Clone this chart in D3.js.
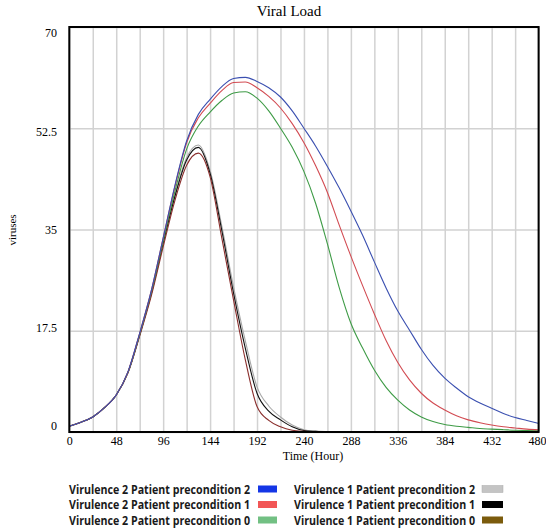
<!DOCTYPE html>
<html>
<head>
<meta charset="utf-8">
<script src="https://cdn.jsdelivr.net/npm/d3@7"></script>
<style>
  body { margin: 0; background: #fff; }
  svg { display: block; }
</style>
</head>
<body>
<div id="chart"></div>
<script>
var width = 546;
var height = 531;

// time in hours
var hours = [0, 12, 24, 36, 48, 60, 72, 84, 96, 108, 120, 132, 144, 156, 168, 180, 192, 204, 216, 228, 240,
  252, 264, 276, 288, 300, 312, 324, 336, 348, 360, 372, 384, 396, 408, 420, 432, 444, 456, 468, 480];

var v2p2 = [1.0, 1.7, 2.6, 4.2, 6.4, 10.4, 17.1, 24.5, 33.5, 42.6, 50.3, 54.9, 57.5, 59.7, 61.1, 61.3, 60.6,
  59.5, 57.9, 55.5, 52.5, 49.4, 45.9, 42.2, 38.2, 34.0, 29.4, 24.9, 20.9, 17.6, 14.3, 11.5, 9.3, 7.6, 6.1,
  5.0, 4.1, 3.2, 2.5, 2.0, 1.5];
var v2p1 = [1.0, 1.7, 2.6, 4.2, 6.4, 10.4, 17.1, 24.5, 33.5, 42.4, 50.0, 54.3, 56.8, 59.0, 60.4, 60.5, 59.5,
  58.0, 56.0, 53.3, 50.0, 46.0, 41.4, 35.8, 30.4, 25.3, 20.4, 15.8, 12.0, 9.0, 6.7, 5.0, 3.8, 2.8, 2.1,
  1.6, 1.2, 0.9, 0.7, 0.5, 0.4];
var v2p0 = [1.0, 1.7, 2.6, 4.2, 6.4, 10.3, 16.9, 24.2, 33.0, 41.6, 48.9, 52.9, 55.3, 57.3, 58.6, 58.8, 57.7,
  55.5, 52.5, 49.2, 45.0, 39.5, 32.5, 25.0, 18.8, 14.5, 10.7, 7.7, 5.5, 3.8, 2.6, 1.8, 1.3, 1.0, 0.8,
  0.6, 0.5, 0.4, 0.3, 0.25, 0.2];
var v1p2 = [1.0, 1.7, 2.6, 4.2, 6.4, 10.3, 16.8, 24.0, 32.8, 41.0, 47.4, 49.6, 45.2, 35.6, 25.1, 15.8, 7.8,
  4.5, 2.6, 1.2, 0.4, 0.15, 0.05, 0, 0, 0, 0, 0, 0, 0, 0, 0, 0, 0, 0, 0, 0, 0, 0, 0, 0];
var v1p1 = [1.0, 1.7, 2.6, 4.2, 6.4, 10.3, 16.8, 24.0, 32.6, 40.7, 47.0, 49.2, 44.7, 34.8, 24.0, 14.5, 6.7,
  3.6, 2.1, 0.9, 0.25, 0.1, 0, 0, 0, 0, 0, 0, 0, 0, 0, 0, 0, 0, 0, 0, 0, 0, 0, 0, 0];
var v1p0 = [1.0, 1.7, 2.6, 4.2, 6.4, 10.2, 16.6, 23.6, 32.0, 40.0, 46.1, 48.2, 44.1, 33.5, 22.8, 12.5, 4.4,
  2.0, 0.9, 0.3, 0.1, 0, 0, 0, 0, 0, 0, 0, 0, 0, 0, 0, 0, 0, 0, 0, 0, 0, 0, 0, 0];

var seriesNames = ["Virulence 2  Patient precondition 2", "Virulence 2  Patient precondition 1",
  "Virulence 2  Patient precondition 0", "Virulence 1  Patient precondition 2",
  "Virulence 1  Patient precondition 1", "Virulence 1  Patient precondition 0"];
var seriesValues = [v2p2, v2p1, v2p0, v1p2, v1p1, v1p0];
var lineColors = ["#3a4fb0", "#d24b52", "#3e9b46", "#a8a8a8", "#111111", "#8a2e2c"];
var swatchColors = ["#1436e6", "#f25656", "#72c083", "#c4c4c4", "#000000", "#7b5b0c"];

var xTicks = [0, 48, 96, 144, 192, 240, 288, 336, 384, 432, 480];
var xGrid = d3.range(0, 481, 24);
var yTicks = [0, 17.5, 35, 52.5, 70];

var serif = "Liberation Serif, Times New Roman, serif";

var svg = d3.select("#chart").append("svg")
  .attr("width", width)
  .attr("height", height);

var x = d3.scaleLinear().domain([0, 480]).range([69.3, 538.6]);
var y = d3.scaleLinear().domain([0, 70]).range([432, 27]);
// tick labels sit slightly off the gridlines in the original
var yLab = d3.scaleLinear().domain([0, 70]).range([426, 33]);

// grid
svg.append("g")
  .attr("transform", "translate(0," + y(0) + ")")
  .call(d3.axisBottom(x).tickValues(xGrid).tickSize(-(y(0) - y(70))).tickFormat(""))
  .call(g => g.select(".domain").remove())
  .selectAll("line").attr("stroke", "#d2d2d2").attr("stroke-width", 1.5);

svg.append("g")
  .attr("transform", "translate(" + x(0) + ",0)")
  .call(d3.axisLeft(y).tickValues(yTicks).tickSize(-(x(480) - x(0))).tickFormat(""))
  .call(g => g.select(".domain").remove())
  .selectAll("line").attr("stroke", "#d2d2d2").attr("stroke-width", 1.5);

// lines
var line = d3.line()
  .x((d, i) => x(hours[i]))
  .y(d => y(d))
  .curve(d3.curveMonotoneX);

var order = [3, 4, 5, 2, 1, 0];
svg.append("g").selectAll("path")
  .data(order)
  .enter()
  .append("path")
  .attr("d", i => line(seriesValues[i]))
  .attr("fill", "none")
  .attr("stroke", i => lineColors[i])
  .attr("stroke-width", 1.1);

// frame
svg.append("rect")
  .attr("x", x(0))
  .attr("y", y(70))
  .attr("width", x(480) - x(0))
  .attr("height", y(0) - y(70))
  .attr("fill", "none")
  .attr("stroke", "#000")
  .attr("stroke-width", 2);

// x labels
var xAxis = svg.append("g")
  .attr("transform", "translate(0," + y(0) + ")")
  .call(d3.axisBottom(x).tickValues(xTicks).tickSize(0).tickPadding(4))
  .call(g => g.select(".domain").remove());
xAxis.attr("font-family", serif).attr("font-size", 12);
xAxis.selectAll("text").attr("fill", "#000")
  .attr("dx", d => d == 480 ? -1.5 : 0);

// y labels
var yAxis = svg.append("g")
  .attr("transform", "translate(57,0)")
  .call(d3.axisLeft(yLab).tickValues(yTicks).tickSize(0).tickPadding(0).tickFormat(d3.format("")))
  .call(g => g.select(".domain").remove());
yAxis.attr("font-family", serif).attr("font-size", 12);
yAxis.selectAll("text").attr("fill", "#000");

svg.append("text")
  .attr("x", 289)
  .attr("y", 16)
  .attr("text-anchor", "middle")
  .attr("font-family", serif)
  .attr("font-size", 15)
  .text("Viral Load");

svg.append("text")
  .attr("x", 313)
  .attr("y", 460)
  .attr("text-anchor", "middle")
  .attr("font-family", serif)
  .attr("font-size", 12)
  .text("Time (Hour)");

svg.append("text")
  .attr("transform", "translate(16,230) rotate(-90)")
  .attr("text-anchor", "middle")
  .attr("font-family", serif)
  .attr("font-size", 11)
  .text("viruses");

// legend
var legend = svg.append("g").selectAll("g")
  .data(seriesNames)
  .enter()
  .append("g")
  .attr("transform", (d, i) => "translate(" + (i < 3 ? 69 : 294) + "," + (489 + (i % 3) * 15.5) + ")");

legend.append("text")
  .attr("y", 4.5)
  .attr("font-family", "Open Sans, Liberation Sans, sans-serif")
  .attr("font-weight", "bold")
  .attr("font-size", 12.5)
  .attr("textLength", 181)
  .attr("lengthAdjust", "spacingAndGlyphs")
  .attr("fill", "#1a1a1a")
  .text(d => d);

legend.append("rect")
  .attr("x", (d, i) => i < 3 ? 189 : 188)
  .attr("y", -3.5)
  .attr("width", (d, i) => i < 3 ? 19 : 21)
  .attr("height", 7)
  .attr("fill", (d, i) => swatchColors[i])
  .attr("stroke", (d, i) => i == 3 ? "#aaa" : "none")
  .attr("stroke-width", 0.5);
</script>
</body>
</html>
